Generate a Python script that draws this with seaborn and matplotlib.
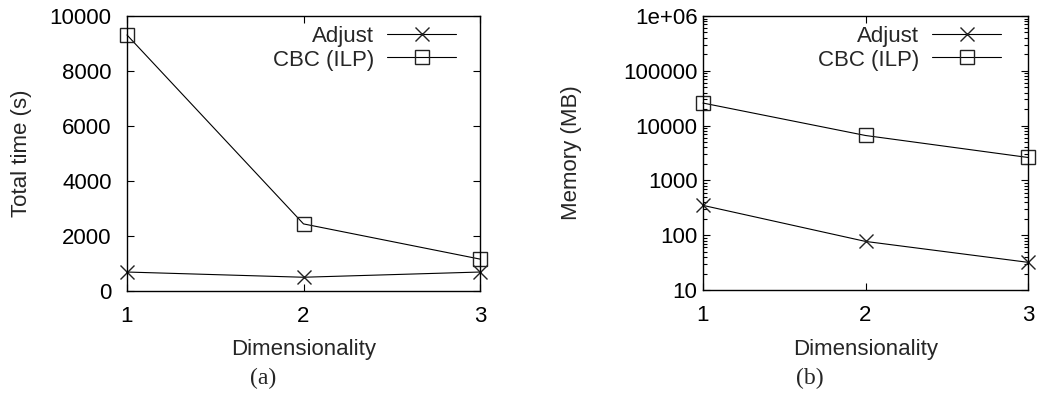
import matplotlib
matplotlib.use("Agg")
import matplotlib.pyplot as plt
import seaborn as sns
import pandas as pd
from matplotlib.ticker import FixedLocator, FixedFormatter, LogLocator, NullFormatter

# ---- data ----
dims = [1, 2, 3]
time_adjust = [690, 500, 690]
time_cbc = [9310, 2440, 1160]
mem_adjust = [350, 77, 32]
mem_cbc = [25800, 6600, 2620]

time_yticks = [0, 2000, 4000, 6000, 8000, 10000]
time_yticklabels = ["0", "2000", "4000", "6000", "8000", "10000"]
mem_yticks = [10, 100, 1000, 10000, 100000, 1000000]
mem_yticklabels = ["10", "100", "1000", "10000", "100000", "1e+06"]
xticklabels = ["1", "2", "3"]
series_names = ["Adjust", "CBC (ILP)"]

sns.set_theme(style="ticks")
plt.rcParams["font.family"] = ["Liberation Sans", "DejaVu Sans"]
plt.rcParams["font.size"] = 16

fig = plt.figure(figsize=(10.52, 3.97), dpi=100)
W, H = 1052, 397
ax1 = fig.add_axes([127 / W, 1 - 291 / H, (480 - 127) / W, (291 - 16) / H])
ax2 = fig.add_axes([703 / W, 1 - 290 / H, (1028 - 703) / W, (290 - 16) / H])

df_time = pd.DataFrame({"dim": dims * 2,
                        "val": time_adjust + time_cbc,
                        "series": [series_names[0]] * 3 + [series_names[1]] * 3})
df_mem = pd.DataFrame({"dim": dims * 2,
                       "val": mem_adjust + mem_cbc,
                       "series": [series_names[0]] * 3 + [series_names[1]] * 3})

markers = {"Adjust": "x", "CBC (ILP)": "s"}
msizes = {"Adjust": 10, "CBC (ILP)": 9.5}

def draw(ax, df):
    for name in series_names:
        sub = df[df["series"] == name]
        sns.lineplot(data=sub, x="dim", y="val", ax=ax, color="black",
                     linewidth=0.8, marker=markers[name], markersize=msizes[name],
                     markerfacecolor="none", markeredgecolor="#222222",
                     markeredgewidth=1.0, label=name, clip_on=False)

draw(ax1, df_time)
draw(ax2, df_mem)

for ax in (ax1, ax2):
    ax.set_xlim(1, 3)
    ax.xaxis.set_major_locator(FixedLocator(dims))
    ax.xaxis.set_major_formatter(FixedFormatter(xticklabels))
    for s in ax.spines.values():
        s.set_visible(True)
        s.set_linewidth(1.0)
        s.set_color("black")
    ax.tick_params(which="both", direction="in", top=True, right=True,
                   colors="black", labelsize=16, width=0.8)
    ax.tick_params(which="major", length=5)
    ax.tick_params(which="minor", length=3)
    ax.tick_params(axis="x", pad=11)
    ax.set_xlabel("Dimensionality", fontsize=16)
    ax.grid(False)

ax1.set_ylim(0, 10000)
ax1.yaxis.set_major_locator(FixedLocator(time_yticks))
ax1.yaxis.set_major_formatter(FixedFormatter(time_yticklabels))
ax1.tick_params(axis="y", pad=11)
ax1.set_ylabel("Total time (s)", fontsize=16)
ax1.yaxis.set_label_coords(-0.269, 0.5)
ax1.xaxis.set_label_coords(0.5, -0.176)

ax2.set_yscale("log")
ax2.set_ylim(10, 1000000)
ax2.yaxis.set_major_locator(FixedLocator(mem_yticks))
ax2.yaxis.set_major_formatter(FixedFormatter(mem_yticklabels))
ax2.yaxis.set_minor_locator(LogLocator(base=10, subs=(2, 3, 4, 5, 6, 7, 8, 9), numticks=20))
ax2.yaxis.set_minor_formatter(NullFormatter())
ax2.tick_params(axis="y", pad=4)
ax2.set_ylabel("Memory (MB)", fontsize=16)
ax2.yaxis.set_label_coords(-0.372, 0.5)
ax2.xaxis.set_label_coords(0.5, -0.18)

def legend(ax, anchor_x, anchor_y):
    leg = ax.legend(loc="upper right", bbox_to_anchor=(anchor_x, anchor_y),
                    frameon=False, markerfirst=False, fontsize=16,
                    handlelength=3.1, handletextpad=0.6, labelspacing=0.1,
                    borderaxespad=0.2)
    vp = leg._legend_box._children[-1]._children[0]
    for c in vp._children:
        c.align = "right"
    vp.align = "right"
    return leg

legend(ax1, 0.97, 1.011)
legend(ax2, 0.958, 1.011)

fig.text(263 / W, 1 - 378 / H, "(a)", ha="center", va="center",
         family=["Liberation Serif", "DejaVu Serif"], fontsize=17)
fig.text(810 / W, 1 - 378 / H, "(b)", ha="center", va="center",
         family=["Liberation Serif", "DejaVu Serif"], fontsize=17)

fig.savefig("out.png", dpi=100, facecolor="white")
